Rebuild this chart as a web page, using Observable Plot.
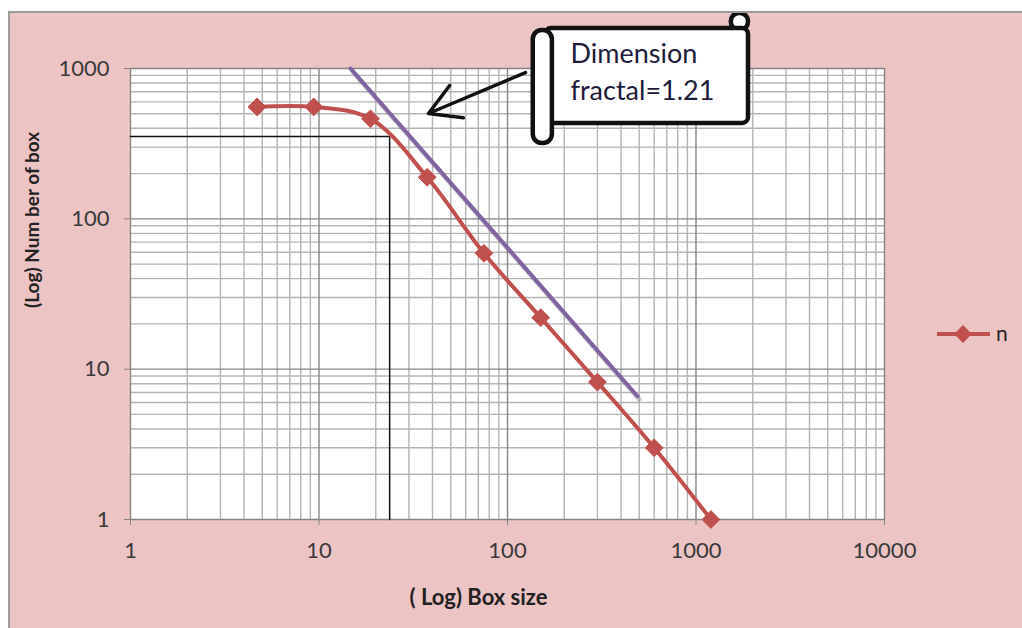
<!DOCTYPE html>
<html>
<head>
<meta charset="utf-8">
<script src="https://cdn.jsdelivr.net/npm/d3@7"></script>
<script src="https://cdn.jsdelivr.net/npm/@observablehq/plot@0.6"></script>
<style>
  html, body { margin: 0; padding: 0; background: #ffffff; }
  #frame {
    position: absolute; left: 8px; top: 11px; width: 1014px; height: 617px;
    box-sizing: border-box; border-top: 2px solid #9c9c9c; border-left: 2px solid #9c9c9c;
    background: #edc4c4; overflow: hidden;
  }
  #chart { position: absolute; left: 0; top: 0; }
  #legend { position: absolute; left: 925px; top: 297px; font-family: Lato, "Open Sans", sans-serif; }
</style>
</head>
<body>
<div id="frame">
  <div id="chart"></div>
  <div id="legend"></div>
</div>
<script>
// ---- data ----
const boxSize = [4.69, 9.38, 18.75, 37.5, 75, 150, 300, 600, 1200];
const nBoxes  = [555, 555, 463, 189, 59, 22, 8.2, 3, 1];
const seriesName = "n";

// fitted line (purple), end points in data units
const fitX = [14.7, 489];
const fitY = [1000, 6.6];

// black reference lines (corner at box size ~23.7, n ~353)
const refX = [1, 23.7, 23.7];
const refY = [353, 353, 1];

// axis ticks
const xTicks = [1, 10, 100, 1000, 10000];
const yTicks = [1, 10, 100, 1000];

// callout (data units)
const calloutLines = ["Dimension", "fractal=1.21"];
const calloutTextX = [216, 216];
const calloutTextY = [1080, 613];
const arrowFrom = [124.6, 940];
const arrowTo = [38.1, 502];
const boxMain = {x1: 159, x2: 1899, y1: 431, y2: 1846};
const rollLeft = {x1: 137, x2: 173, y1: 317, y2: 1790};
const rollTop = {x1: 1540, x2: 1899, y1: 1790, y2: 2323};

const xLabel = "( Log) Box size";
const yLabel = "(Log) Num ber of box";

// ---- build ----
const pts = boxSize.map((x, i) => ({x, y: nBoxes[i]}));
const fit = fitX.map((x, i) => ({x, y: fitY[i]}));
const ref = refX.map((x, i) => ({x, y: refY[i]}));
const minorOf = (lo, hi) => {
  const out = [];
  for (let p = lo; p < hi; p *= 10) for (let k = 2; k <= 9; k++) out.push(p * k);
  return out;
};
const xMinor = minorOf(1, 10000);
const yMinor = minorOf(1, 1000);
const callout = calloutLines.map((t, i) => ({t, x: calloutTextX[i], y: calloutTextY[i]}));

const red = "#c0504d", purple = "#8064a2";
const font = "Lato, 'Open Sans', sans-serif";

const plot = Plot.plot({
  width: 1012, height: 615,
  marginLeft: 120, marginTop: 55, marginRight: 138, marginBottom: 109,
  style: {background: "transparent", overflow: "visible", fontFamily: font},
  x: {type: "log", domain: [1, 10000]},
  y: {type: "log", domain: [1, 1000]},
  marks: [
    Plot.frame({fill: "white", stroke: null}),
    Plot.ruleX(xMinor, {stroke: "#b4b4b4", strokeWidth: 1.4}),
    Plot.ruleY(yMinor, {stroke: "#b4b4b4", strokeWidth: 1.4}),
    Plot.ruleX(xTicks, {stroke: "#858585", strokeWidth: 1.4}),
    Plot.ruleY(yTicks, {stroke: "#858585", strokeWidth: 1.4}),
    Plot.axisX(xTicks, {tickSize: 6, tickPadding: 17, fontSize: 22, tickFormat: d => String(d), fill: "#3a3a3a", stroke: "#858585"}),
    Plot.axisY(yTicks, {tickSize: 6, tickPadding: 15, fontSize: 22, tickFormat: d => String(d), fill: "#3a3a3a", stroke: "#858585"}),
    Plot.text([xLabel], {frameAnchor: "bottom", dx: -29, dy: 78, lineAnchor: "middle", fontSize: 22, fontWeight: "bold", fill: "#222", text: d => d}),
    Plot.text([yLabel], {frameAnchor: "left", dx: -98, dy: 14, rotate: -90, lineAnchor: "middle", fontSize: 19, fontWeight: "bold", fill: "#222", text: d => d}),
    Plot.line(ref, {x: "x", y: "y", stroke: "#111", strokeWidth: 1.5}),
    Plot.line(fit, {x: "x", y: "y", stroke: "#555", strokeOpacity: 0.25, strokeWidth: 5, dx: 2, dy: 3}),
    Plot.line(fit, {x: "x", y: "y", stroke: purple, strokeWidth: 4}),
    Plot.line(pts, {x: "x", y: "y", stroke: red, strokeWidth: 4, curve: "catmull-rom"}),
    Plot.dot(pts, {x: "x", y: "y", symbol: "diamond2", r: 8, fill: red, stroke: red, strokeWidth: 1}),
    Plot.arrow([{x1: arrowFrom[0], y1: arrowFrom[1], x2: arrowTo[0], y2: arrowTo[1]}], {x1: "x1", y1: "y1", x2: "x2", y2: "y2", stroke: "#111", strokeWidth: 3.5, headLength: 16}),
    Plot.rect([rollTop], {x1: "x1", x2: "x2", y1: "y1", y2: "y2", fill: "white", stroke: "#111", strokeWidth: 4.5, rx: 8}),
    Plot.rect([boxMain], {x1: "x1", x2: "x2", y1: "y1", y2: "y2", fill: "white", stroke: "#111", strokeWidth: 4.5, rx: 6}),
    Plot.rect([rollLeft], {x1: "x1", x2: "x2", y1: "y1", y2: "y2", fill: "white", stroke: "#111", strokeWidth: 4.5, rx: 9}),
    Plot.text(callout, {x: "x", y: "y", text: "t", textAnchor: "start", lineAnchor: "bottom", fontSize: 27, fill: "#1c1c3a"})
  ]
});
document.getElementById("chart").appendChild(plot);

// legend
const lg = d3.select("#legend").append("svg").attr("width", 96).attr("height", 40);
lg.append("line").attr("x1", 2).attr("x2", 55).attr("y1", 24).attr("y2", 24).attr("stroke", red).attr("stroke-width", 4);
lg.append("path").attr("d", d3.symbol(d3.symbolDiamond2, 201)()).attr("transform", "translate(28,24)").attr("fill", red);
lg.append("text").attr("x", 61).attr("y", 24).attr("dy", "0.35em").attr("font-size", 21).attr("fill", "#222").style("font-family", font).text(seriesName);
d3.select("#legend").style("left", "925px");
</script>
</body>
</html>
